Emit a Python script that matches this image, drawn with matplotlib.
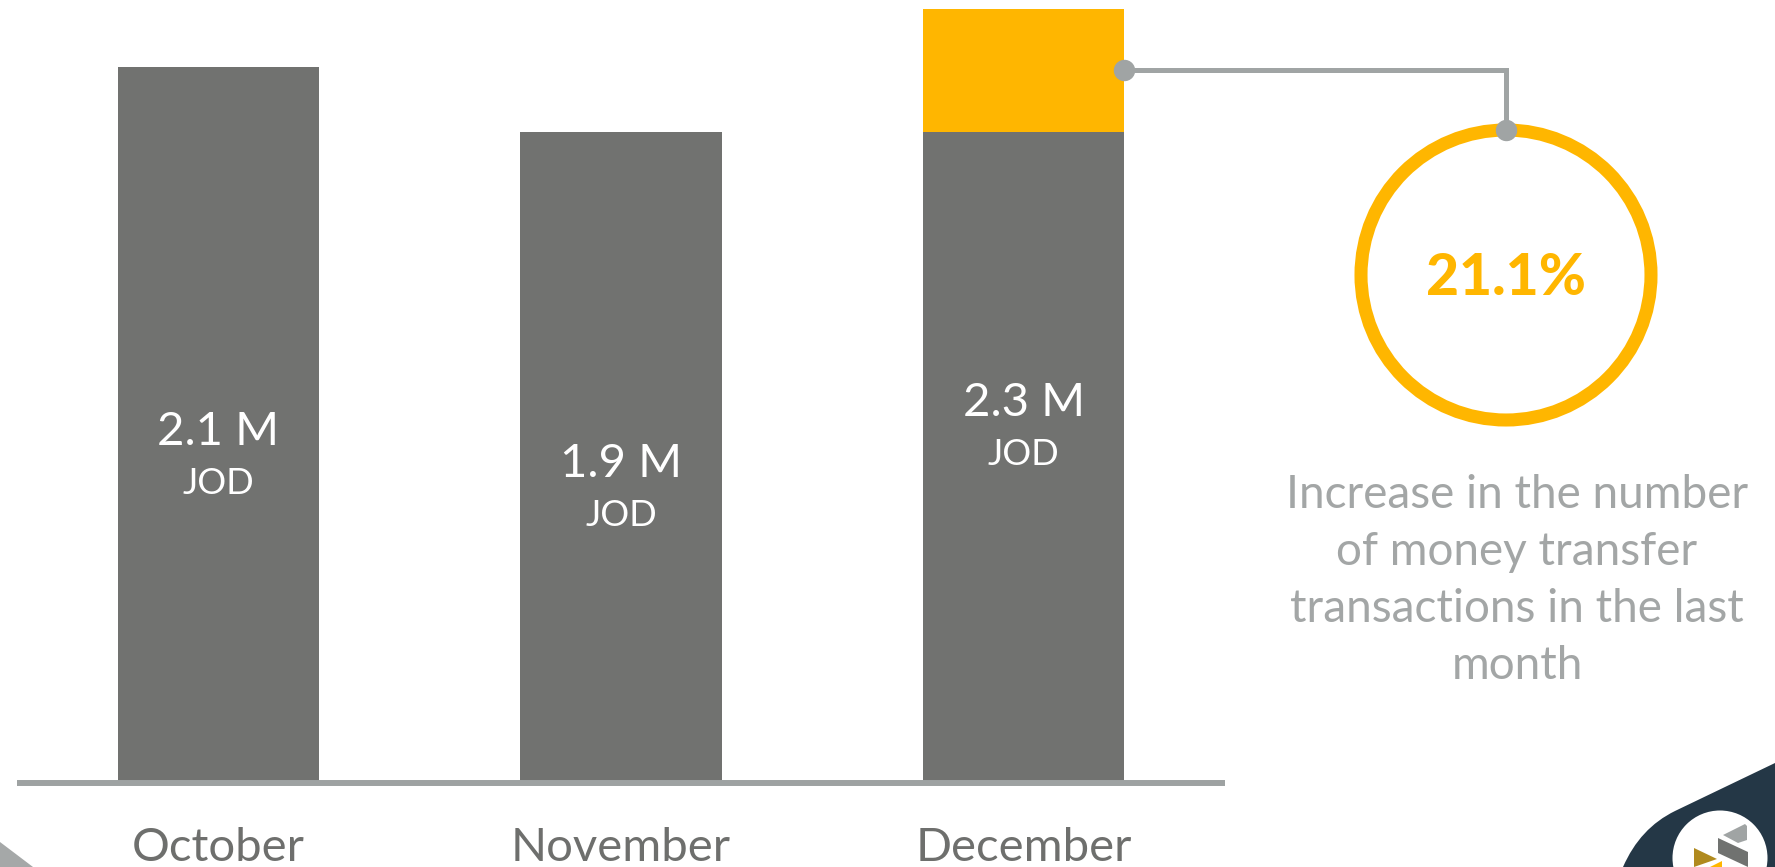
import matplotlib.pyplot as plt
import matplotlib.transforms as mtransforms
from matplotlib.patches import Circle, Polygon, PathPatch
from matplotlib.path import Path

plt.rcParams['font.family'] = ['Lato', 'DejaVu Sans']

# data (million JOD)
months = ['October', 'November', 'December']
values = [2.10, 1.91, 2.27]
value_labels = ['2.1 M', '1.9 M', '2.3 M']
unit = 'JOD'
increase_label = '21.1%'
note_lines = ['Increase in the number', 'of money transfer',
              'transactions in the last', 'month']

BAR_GRAY = '#717270'
YELLOW = '#FFB600'
LINE_GRAY = '#A0A4A4'
MONTH_COLOR = '#6E6F6D'
NOTE_COLOR = '#A3A6A6'
NAVY = '#243746'

W, H = 1775, 867
fig = plt.figure(figsize=(W / 100, H / 100), dpi=100)

# bar axes
ax = fig.add_axes([17 / W, (H - 783) / H, 1208 / W, 783 / H])
x = list(range(len(months)))
# last bar: previous month in gray, growth stacked in yellow
gray_part = values[:-1] + [values[-2]]
growth = [0] * (len(values) - 1) + [values[-1] - values[-2]]
ax.bar(x, gray_part, width=0.5, color=BAR_GRAY)
ax.bar(x, growth, bottom=gray_part, width=0.5, color=YELLOW)
ax.set_xlim(-0.5, 2.5)
ax.set_ylim(0, 2.296)
for s in ['top', 'left', 'right']:
    ax.spines[s].set_visible(False)
ax.spines['bottom'].set_color('#9EA2A2')
ax.spines['bottom'].set_linewidth(4.3)
ax.spines['bottom'].set_capstyle('butt')
ax.set_xticks([])
ax.set_yticks([])
ax.patch.set_alpha(0)

for i, v in enumerate(values):
    ax.annotate(value_labels[i], (i, v / 2), xytext=(0, -14.4), textcoords='offset points',
                ha='center', va='baseline', color='white', fontsize=34)
    ax.annotate(unit, (i, v / 2), xytext=(0, -49.7), textcoords='offset points',
                ha='center', va='baseline', color='white', fontsize=26)

trans = mtransforms.blended_transform_factory(ax.transData, ax.transAxes)
for i, m in enumerate(months):
    ax.text(i, -0.099, m, transform=trans, ha='center', va='baseline',
            color=MONTH_COLOR, fontsize=34)

# overlay in image pixels for callout + decorations
ov = fig.add_axes([0, 0, 1, 1])
ov.set_xlim(0, W)
ov.set_ylim(H, 0)
ov.axis('off')

cx, cy, r = 1506, 275, 145
ov.add_patch(Circle((cx, cy), r, facecolor='none', edgecolor=YELLOW, lw=9.4))
ov.text(cx, 295, increase_label, ha='center', va='baseline', color=YELLOW,
        fontsize=41, fontweight='black')

start = ov.transData.inverted().transform(
    ax.transData.transform((x[-1] + 0.25, (values[-2] + values[-1]) / 2)))
sx, sy = start
ov.plot([sx, cx, cx], [sy, sy, cy - r], color=LINE_GRAY, lw=3.6, solid_joinstyle='miter')
ov.plot([sx, cx], [sy, cy - r], 'o', color=LINE_GRAY, ms=14.4)

for k, line in enumerate(note_lines):
    ov.text(1517, 508 + 57 * k, line, ha='center', va='baseline',
            color=NOTE_COLOR, fontsize=33)

# corner decorations
ov.add_patch(Polygon([(0, 842), (33, 867), (0, 867)], closed=True, color='#A5A8A8', lw=0))
verts = [(1775, 763), (1675, 811), (1640, 828), (1623, 867), (1775, 867), (1775, 763)]
codes = [Path.MOVETO, Path.LINETO, Path.CURVE3, Path.CURVE3, Path.LINETO, Path.CLOSEPOLY]
ov.add_patch(PathPatch(Path(verts, codes), facecolor=NAVY, lw=0))
ov.add_patch(Circle((1720, 858), 47.5, color='white', lw=0))
ov.add_patch(Polygon([(1723, 835), (1745, 824), (1747, 826), (1747, 840), (1738, 843)],
                     closed=True, color='#A0A4A4', lw=0))
ov.add_patch(Polygon([(1718, 838), (1748, 852), (1748, 867), (1718, 853)],
                     closed=True, color='#707270', lw=0))
ov.add_patch(Polygon([(1694, 848), (1717, 859), (1694, 867)], closed=True, color='#B08A1E', lw=0))
ov.add_patch(Polygon([(1710, 867), (1722, 861), (1722, 867)], closed=True, color=YELLOW, lw=0))

fig.savefig('out.png', dpi=100)
